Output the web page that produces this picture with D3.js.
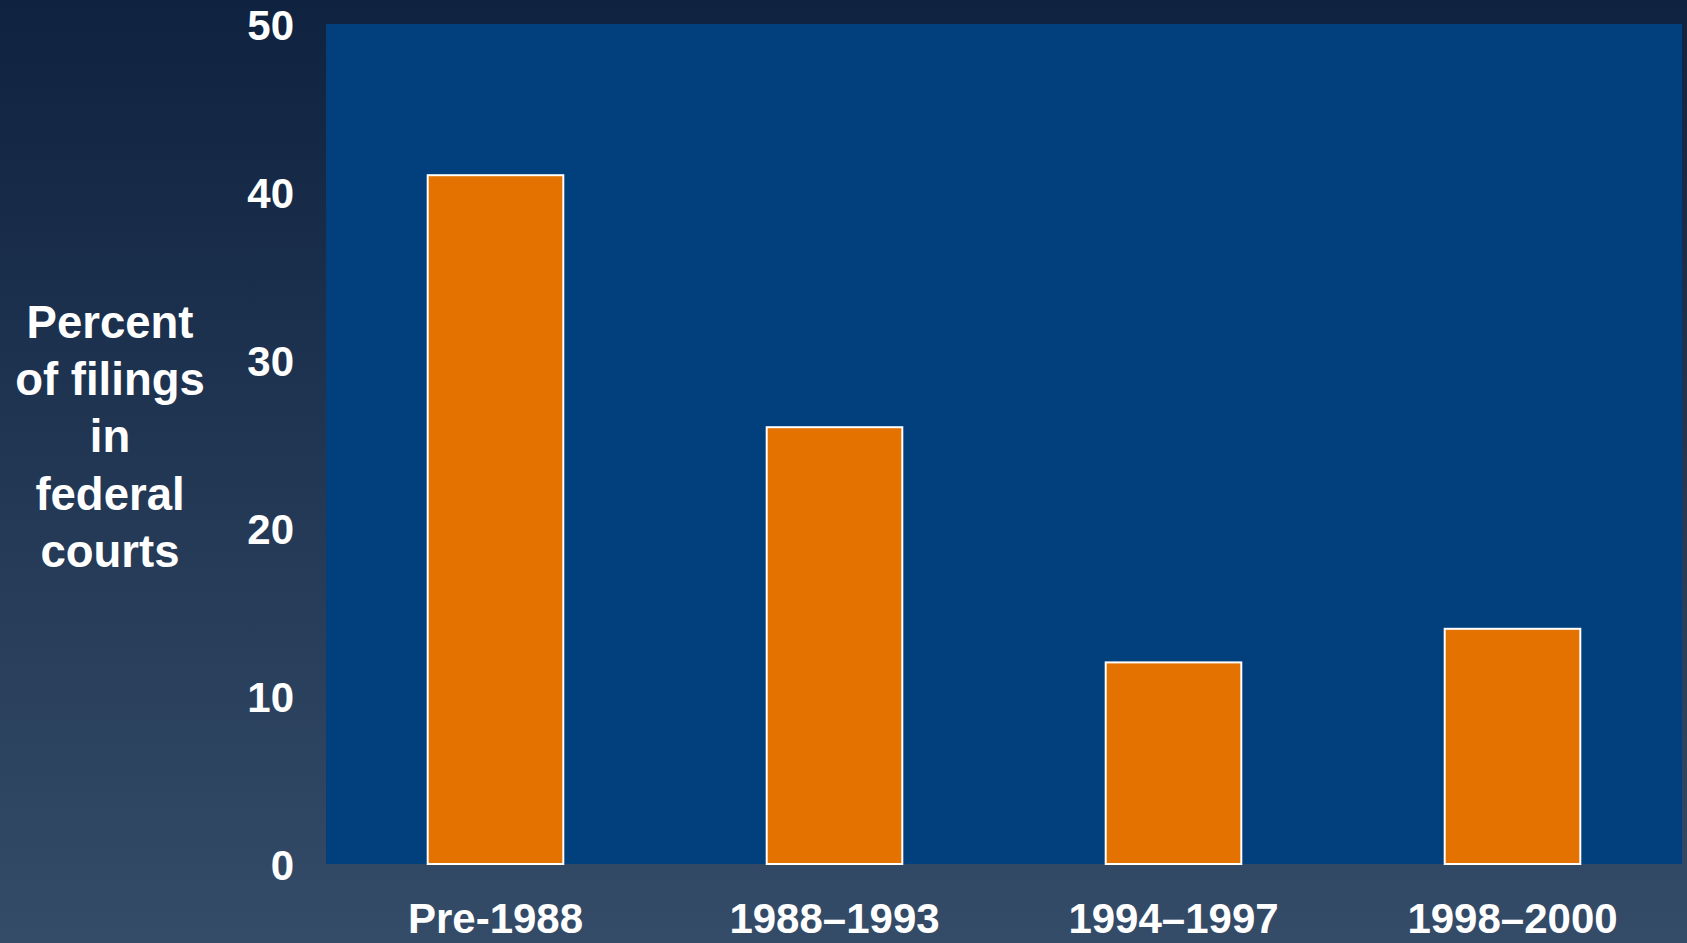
<!DOCTYPE html>
<html>
<head>
<meta charset="utf-8">
<script src="https://cdn.jsdelivr.net/npm/d3@7"></script>
<style>
  html, body { margin: 0; padding: 0; background: #1f324f; }
  svg { display: block; }
  text { font-family: "Liberation Sans", Arial, Helvetica, sans-serif; font-weight: bold; fill: #fff; }
</style>
</head>
<body>
<svg id="chart" width="1687" height="943"></svg>
<script>
// data
const periods = ['Pre-1988', '1988\u20131993', '1994\u20131997', '1998\u20132000'];
const percents = [41, 26, 12, 14];
const yTicks = [0, 10, 20, 30, 40, 50];
const titleLines = ['Percent', 'of filings', 'in', 'federal', 'courts'];

const W = 1687, H = 943;
const plot = { left: 326, top: 24, right: 1682, bottom: 864 };

const svg = d3.select('#chart');

// page background: vertical navy gradient
const defs = svg.append('defs');
const grad = defs.append('linearGradient')
  .attr('id', 'bg').attr('x1', 0).attr('y1', 0).attr('x2', 0).attr('y2', 1);
grad.append('stop').attr('offset', '0%').attr('stop-color', '#0f2240');
grad.append('stop').attr('offset', '100%').attr('stop-color', '#344c68');
svg.append('rect').attr('width', W).attr('height', H).attr('fill', 'url(#bg)');

const x = d3.scaleBand()
  .domain(periods)
  .range([plot.left, plot.right])
  .paddingInner(0.6)
  .paddingOuter(0.3);

const y = d3.scaleLinear()
  .domain([0, 50])
  .range([plot.bottom, plot.top]);

// plot area
svg.append('rect')
  .attr('x', plot.left).attr('y', plot.top)
  .attr('width', plot.right - plot.left)
  .attr('height', plot.bottom - plot.top)
  .attr('fill', '#013f7d');

// bars
svg.append('g').selectAll('rect')
  .data(percents)
  .join('rect')
  .attr('x', (d, i) => x(periods[i]))
  .attr('y', d => y(d))
  .attr('width', x.bandwidth())
  .attr('height', d => y(0) - y(d))
  .attr('fill', '#e37200')
  .attr('stroke', '#fff')
  .attr('stroke-width', 2);

// y axis (labels only)
const yAxis = svg.append('g')
  .attr('transform', 'translate(' + (plot.left - 32) + ',0)')
  .call(d3.axisLeft(y).tickValues(yTicks).tickSize(0).tickPadding(0));
yAxis.select('.domain').remove();
yAxis.selectAll('text')
  .attr('font-size', 42)
  .attr('dy', '0.36em')
  .attr('fill', '#fff');

// x axis (labels only) — kept just inside the bottom edge
const xAxis = svg.append('g')
  .attr('transform', 'translate(0,' + plot.bottom + ')')
  .call(d3.axisBottom(x).tickSize(0).tickPadding(0));
xAxis.select('.domain').remove();
xAxis.selectAll('text')
  .attr('font-size', 42)
  .attr('dy', null)
  .attr('y', 69)
  .attr('fill', '#fff');
svg.selectAll('g[font-family]').attr('font-family', null);

// y axis title, stacked lines
svg.append('text')
  .attr('text-anchor', 'middle')
  .attr('font-size', 45.5)
  .selectAll('tspan')
  .data(titleLines)
  .join('tspan')
  .attr('x', 110)
  .attr('y', (d, i) => 338 + i * 57.2)
  .text(d => d);
</script>
</body>
</html>
